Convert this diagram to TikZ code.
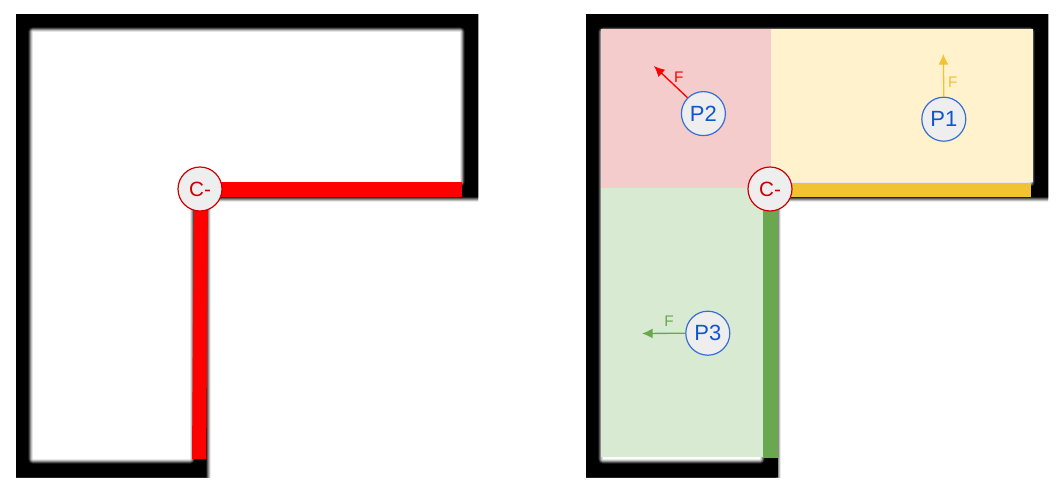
\documentclass[tikz,border=0pt]{standalone}
\usepackage{fontspec}
\setmainfont{Liberation Sans}
\usetikzlibrary{arrows.meta}
\definecolor{pinkzone}{HTML}{F4CCCC}
\definecolor{yellowzone}{HTML}{FFF2CC}
\definecolor{greenzone}{HTML}{D9EAD3}
\definecolor{yellowwall}{HTML}{F1C232}
\definecolor{greenwall}{HTML}{6AA84F}
\definecolor{nodefill}{HTML}{EEEEEE}
\definecolor{pblue}{HTML}{1155CC}
\definecolor{cred}{HTML}{CC0000}
\newcommand{\outerpoly}{(16,14) -- (478,14) -- (478,197) -- (206.3,197) -- (206.3,477) -- (16,477) -- cycle}
\newcommand{\innerpoly}{(33,32) -- (460,32) -- (460,182) -- (190,182) -- (190,459) -- (33,459) -- cycle}
\newcommand{\floorplan}{%
  \begin{scope}
    \clip (16,14) rectangle (478,477);
    \draw[black!8,  line width=7.5pt, line join=round] \outerpoly;
    \draw[black!25, line width=6pt,   line join=round] \outerpoly;
    \draw[black!45, line width=4.5pt, line join=round] \outerpoly;
    \draw[black!65, line width=3pt,   line join=round] \outerpoly;
    \draw[black!85, line width=1.5pt, line join=round] \outerpoly;
  \end{scope}
  \fill[black] \outerpoly;
  \filldraw[black!90, line width=7.5pt, line join=round] \innerpoly;
  \filldraw[black!70, line width=6pt,   line join=round] \innerpoly;
  \filldraw[black!45, line width=4.5pt, line join=round] \innerpoly;
  \filldraw[black!25, line width=3pt,   line join=round] \innerpoly;
  \filldraw[black!10, line width=1.5pt, line join=round] \innerpoly;
  \fill[white] \innerpoly;
}
\tikzset{
  cnode/.style={circle, draw=cred, fill=nodefill, line width=.9pt, minimum size=33pt, inner sep=0pt, text=cred, font=\fontsize{15.5}{15.5}\selectfont},
  pnode/.style={circle, draw=pblue!85!white, fill=nodefill, line width=.9pt, minimum size=33pt, inner sep=0pt, text=pblue, font=\fontsize{16.5}{16.5}\selectfont},
  force/.style={line width=1pt, -{Latex[length=8pt,width=7.5pt]}},
  flabel/.style={inner sep=0pt, font=\fontsize{11.5}{11.5}\selectfont},
}
\begin{document}
\begin{tikzpicture}[x=.75pt,y=-.75pt]
\useasboundingbox (0,0) rectangle (1062,493);
\fill[white] (0,0) rectangle (1062,493);
% left plan
\floorplan
\fill[red] (200,182.3) rectangle (462,196.7);
\fill[red] (194,189) -- (208,189) -- (206.3,459) -- (192,459) -- cycle;
\node[cnode] (cl) at (200,189) {C-};
% right plan
\begin{scope}[xshift=427.5pt]
  \floorplan
\end{scope}
\fill[black] (770,440) rectangle (777.7,477);
\fill[pinkzone] (601,28.5) rectangle (771,188.3);
\fill[yellowzone] (771,28.5) rectangle (1032.5,182);
\fill[greenzone] (601,188.3) rectangle (763,457.3);
\fill[black!50] (762.5,188.3) rectangle (763.5,458);
\fill[yellowwall] (771,182.5) rectangle (1031,196.7);
\fill[greenwall] (763.3,189) rectangle (777.7,457.7);
\node[cnode] (cr) at (770,189) {C-};
\node[pnode] (p1) at (943.8,119.2) {P1};
\node[pnode] (p2) at (703.4,113.6) {P2};
\node[pnode] (p3) at (707.8,333.2) {P3};
\coordinate (t1) at (943.3,54);
\coordinate (t2) at (654,66);
\coordinate (t3) at (642,333.5);
\draw[force, yellowwall] (p1.north) -- (t1);
\draw[force, red] (p2.north west) -- (t2);
\draw[force, greenwall] (p3.west) -- (t3);
\node[flabel, text=yellowwall] (f1) at (952.7,81.8) {F};
\node[flabel, text=red] (f2) at (678.7,77) {F};
\node[flabel, text=greenwall] (f3) at (669,321) {F};
\end{tikzpicture}
\end{document}
